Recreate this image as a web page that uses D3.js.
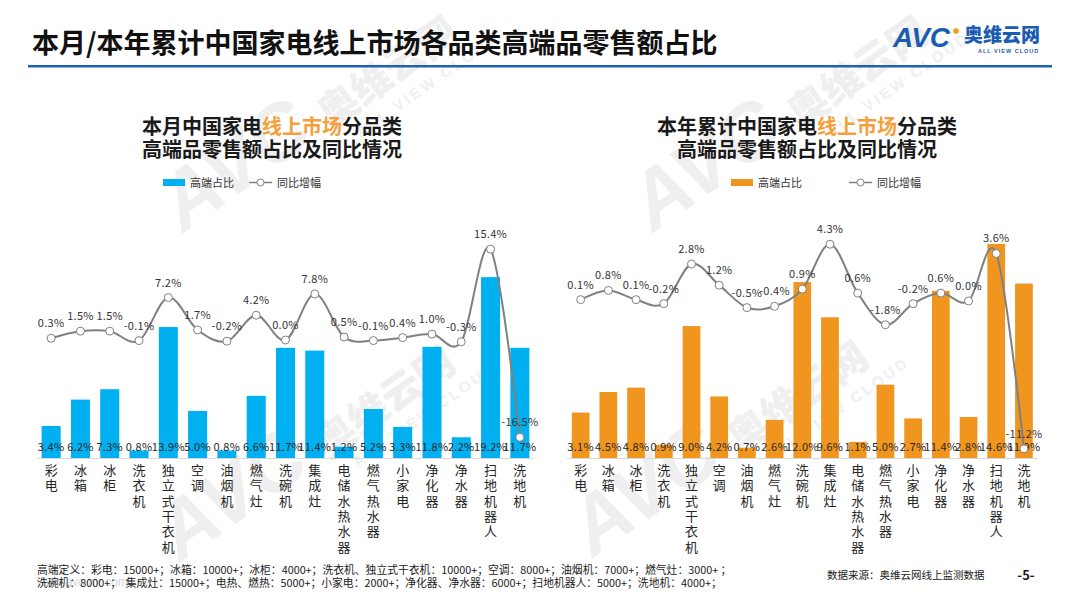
<!DOCTYPE html>
<html>
<head>
<meta charset="utf-8">
<script src="https://cdn.jsdelivr.net/npm/d3@7"></script>
<style>
  body { margin: 0; background: #fff; }
  svg { display: block; font-family: "Noto Sans CJK SC", "Noto Sans", sans-serif; }
</style>
</head>
<body>
<svg id="chart"></svg>
<script>
var svgWidth = 1080;
var svgHeight = 608;

// categories (x axis, shared by both panels)
var categories = ["彩电", "冰箱", "冰柜", "洗衣机", "独立式干衣机", "空调", "油烟机", "燃气灶", "洗碗机",
  "集成灶", "电储水热水器", "燃气热水器", "小家电", "净化器", "净水器", "扫地机器人", "洗地机"];

// this month: high-end share (%) and yoy change (pct points)
var monthShare = [3.4, 6.2, 7.3, 0.8, 13.9, 5.0, 0.8, 6.6, 11.7, 11.4, 1.2, 5.2, 3.3, 11.8, 2.2, 19.2, 11.7];
var monthYoy = [0.3, 1.5, 1.5, -0.1, 7.2, 1.7, -0.2, 4.2, 0.0, 7.8, 0.5, -0.1, 0.4, 1.0, -0.3, 15.4, -16.5];

// year to date
var yearShare = [3.1, 4.5, 4.8, 0.9, 9.0, 4.2, 0.7, 2.6, 12.0, 9.6, 1.1, 5.0, 2.7, 11.4, 2.8, 14.6, 11.9];
var yearYoy = [0.1, 0.8, 0.1, -0.2, 2.8, 1.2, -0.5, -0.4, 0.9, 4.3, 0.6, -1.8, -0.2, 0.6, 0.0, 3.6, -11.2];

var legendNames = ["高端占比", "同比增幅"];

var footNotes = [
  "高端定义：彩电：15000+；冰箱：10000+；冰柜：4000+；洗衣机、独立式干衣机：10000+；空调：8000+；油烟机：7000+；燃气灶：3000+ ；",
  "洗碗机：8000+；  集成灶：15000+；电热、燃热：5000+；小家电：2000+；净化器、净水器：6000+；扫地机器人：5000+；洗地机：4000+；"
];

var svg = d3.select("#chart")
  .attr("width", svgWidth)
  .attr("height", svgHeight);

// faint watermark tiles
var marks = svg.append("g").attr("fill", "#efefef");
[[183, 233], [180, 563], [593, 558], [653, 233]].forEach(function (p) {
  var g = marks.append("g").attr("transform", `translate(${p[0]},${p[1]}) rotate(-35)`);
  g.append("text").attr("x", 0).attr("y", 0)
    .attr("font-family", "Liberation Sans").attr("font-weight", 900).attr("font-style", "italic")
    .attr("font-size", 80).text("AVC");
  g.append("text").attr("x", 180).attr("y", 0)
    .attr("font-weight", 900).attr("font-size", 40).text("奥维云网");
  g.append("text").attr("x", 200).attr("y", 24)
    .attr("font-family", "Liberation Sans").attr("font-weight", 700)
    .attr("font-size", 15).attr("letter-spacing", 3).text("ALL VIEW CLOUD");
});

// header
svg.append("text")
  .attr("x", 32).attr("y", 53)
  .attr("font-size", 27).attr("font-weight", 700).attr("fill", "#111")
  .text("本月/本年累计中国家电线上市场各品类高端品零售额占比");

svg.append("rect")
  .attr("x", 28).attr("y", 65).attr("width", 1024).attr("height", 2.5)
  .attr("fill", "#1f62b5");

var logo = svg.append("g");
logo.append("text").attr("x", 893).attr("y", 47)
  .attr("font-family", "Liberation Sans").attr("font-weight", 900).attr("font-style", "italic")
  .attr("font-size", 28).attr("fill", "#1b5cb3").text("AVC");
logo.append("circle").attr("cx", 956).attr("cy", 31).attr("r", 2.8).attr("fill", "#f39a1e");
logo.append("text").attr("x", 964).attr("y", 42)
  .attr("font-weight", 900).attr("font-size", 19).attr("fill", "#1b5cb3").text("奥维云网");
logo.append("text").attr("x", 978).attr("y", 53)
  .attr("font-family", "Liberation Sans").attr("font-weight", 700)
  .attr("font-size", 5.5).attr("letter-spacing", 1).attr("fill", "#1b5cb3").text("ALL VIEW CLOUD");

// one panel = bars + smoothed yoy line
function drawPanel(p) {
  var g = svg.append("g");

  var x = d3.scaleBand()
    .domain(categories)
    .range(p.xRange)
    .paddingInner(p.pad)
    .paddingOuter(p.pad / 2);

  var yBar = d3.scaleLinear().domain(p.barDomain).range(p.barRange);
  var yLine = d3.scaleLinear().domain(p.lineDomain).range(p.lineRange);

  // title, two lines
  var t1 = g.append("text")
    .attr("x", p.titleX).attr("y", 134)
    .attr("text-anchor", "middle")
    .attr("font-size", 20).attr("font-weight", 700).attr("fill", "#1a1a1a");
  t1.append("tspan").text(p.title1[0]);
  t1.append("tspan").attr("fill", "#f4a03c").text(p.title1[1]);
  t1.append("tspan").text(p.title1[2]);
  g.append("text")
    .attr("x", p.titleX).attr("y", 157)
    .attr("text-anchor", "middle")
    .attr("font-size", 20).attr("font-weight", 700).attr("fill", "#1a1a1a")
    .text("高端品零售额占比及同比情况");

  // legend
  var lg = g.append("g").attr("font-size", 11).attr("fill", "#333");
  lg.append("rect").attr("x", p.legend[0]).attr("y", 179).attr("width", 22).attr("height", 7)
    .attr("fill", p.color);
  lg.append("text").attr("x", p.legend[0] + 27).attr("y", 187).text(legendNames[0]);
  lg.append("line").attr("x1", p.legend[1]).attr("x2", p.legend[1] + 23)
    .attr("y1", 182.5).attr("y2", 182.5).attr("stroke", "#808080").attr("stroke-width", 1.5);
  lg.append("circle").attr("cx", p.legend[1] + 11.5).attr("cy", 182.5).attr("r", 3.5)
    .attr("fill", "#fff").attr("stroke", "#808080").attr("stroke-width", 1);
  lg.append("text").attr("x", p.legend[1] + 28).attr("y", 187).text(legendNames[1]);

  // bars
  g.selectAll(".bar")
    .data(p.share)
    .enter()
    .append("rect")
    .attr("x", (d, i) => x(categories[i]))
    .attr("y", d => yBar(d))
    .attr("width", x.bandwidth())
    .attr("height", d => yBar(0) - yBar(d))
    .attr("fill", p.color);

  // x axis line
  g.append("line")
    .attr("x1", p.xRange[0]).attr("x2", p.xRange[1])
    .attr("y1", yBar(0) + 0.5).attr("y2", yBar(0) + 0.5)
    .attr("stroke", "#d9d9d9").attr("stroke-width", 1);

  // bar labels, sitting on the base
  g.selectAll(".barLabel")
    .data(p.share)
    .enter()
    .append("text")
    .attr("x", (d, i) => x(categories[i]) + x.bandwidth() / 2)
    .attr("y", yBar(0) - 7)
    .attr("text-anchor", "middle")
    .attr("font-size", 11)
    .attr("letter-spacing", 0.3)
    .attr("fill", "#262626")
    .text(d => d.toFixed(1) + "%");

  // category labels, one character per row
  var cat = g.selectAll(".cat")
    .data(categories)
    .enter()
    .append("text")
    .attr("text-anchor", "middle")
    .attr("font-size", 13)
    .attr("fill", "#262626");
  cat.each(function (d) {
    var el = d3.select(this);
    var cx = x(d) + x.bandwidth() / 2;
    d.split("").forEach(function (ch, k) {
      el.append("tspan").attr("x", cx).attr("y", 475 + k * 15.3).text(ch);
    });
  });

  // yoy line
  var line = d3.line()
    .x((d, i) => x(categories[i]) + x.bandwidth() / 2)
    .y(d => yLine(d))
    .curve(d3.curveCardinal.tension(0));

  g.append("path")
    .datum(p.yoy)
    .attr("d", line)
    .attr("fill", "none")
    .attr("stroke", "#808080")
    .attr("stroke-width", 2);

  g.selectAll(".dot")
    .data(p.yoy)
    .enter()
    .append("circle")
    .attr("cx", (d, i) => x(categories[i]) + x.bandwidth() / 2)
    .attr("cy", d => yLine(d))
    .attr("r", 4)
    .attr("fill", "#fff")
    .attr("stroke", "#808080")
    .attr("stroke-width", 1);

  g.selectAll(".yoyLabel")
    .data(p.yoy)
    .enter()
    .append("text")
    .attr("x", (d, i) => x(categories[i]) + x.bandwidth() / 2)
    .attr("y", d => yLine(d) - 11)
    .attr("text-anchor", "middle")
    .attr("font-size", 11)
    .attr("letter-spacing", 0.3)
    .attr("fill", "#333")
    .text(d => d.toFixed(1) + "%");
}

drawPanel({
  title1: ["本月中国家电", "线上市场", "分品类"],
  titleX: 272,
  legend: [163, 249],
  color: "#00b0f0",
  share: monthShare,
  yoy: monthYoy,
  xRange: [36.5, 534.5],
  pad: 0.35,
  barDomain: [0, 20], barRange: [458, 458 - 188.4],
  lineDomain: [-20, 20], lineRange: [458, 222]
});

drawPanel({
  title1: ["本年累计中国家电", "线上市场", "分品类"],
  titleX: 807,
  legend: [731, 849],
  color: "#f0961e",
  share: yearShare,
  yoy: yearYoy,
  xRange: [566.8, 1037.8],
  pad: 0.36,
  barDomain: [0, 15], barRange: [458, 458 - 219.9],
  lineDomain: [-12, 5], lineRange: [459.4, 235]
});

// footer
svg.append("text").attr("x", 37).attr("y", 586)
  .attr("font-family", "Liberation Sans").attr("font-size", 12).attr("fill", "#d6d6d6")
  .text("www.avc-mr.com");

var foot = svg.append("g").attr("font-size", 10.8).attr("fill", "#1a1a1a");
footNotes.forEach(function (s, i) {
  foot.append("text").attr("x", 37).attr("y", 574 + i * 13).attr("xml:space", "preserve").text(s);
});

svg.append("text").attr("x", 827).attr("y", 579)
  .attr("font-size", 10.5).attr("fill", "#1a1a1a")
  .text("数据来源：奥维云网线上监测数据");
svg.append("text").attr("x", 1026).attr("y", 580)
  .attr("text-anchor", "middle").attr("font-size", 13).attr("font-weight", 700).attr("fill", "#1a1a1a")
  .text("-5-");
</script>
</body>
</html>
